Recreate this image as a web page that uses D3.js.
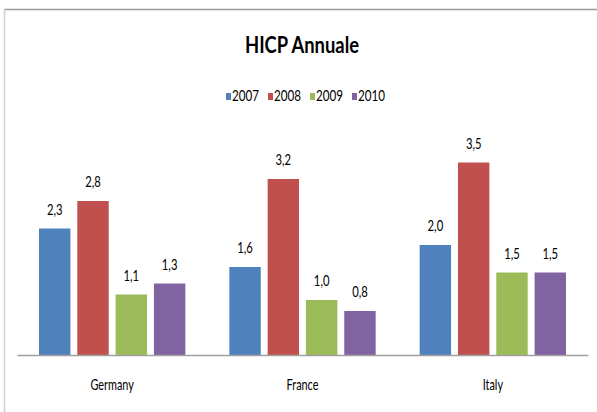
<!DOCTYPE html>
<html lang="it">
<head>
<meta charset="UTF-8"/>
<title>HICP Annuale</title>
<script src="https://d3js.org/d3.v7.min.js"></script>
<style>
  body { margin: 0; background: #fff; }
</style>
</head>
<body>
<div id="chart"></div>
<script>
// Dataset
var countries = ["Germany", "France", "Italy"];
var years = ["2007", "2008", "2009", "2010"];
var hicp2007 = [2.3, 1.6, 2.0];
var hicp2008 = [2.8, 3.2, 3.5];
var hicp2009 = [1.1, 1.0, 1.5];
var hicp2010 = [1.3, 0.8, 1.5];
var colors = ["#4F81BD", "#C0504D", "#9BBB59", "#8064A2"];

var series = [hicp2007, hicp2008, hicp2009, hicp2010];

// Window size
var w = 597;
var h = 412;

var font = "Lato, 'DejaVu Sans Condensed', sans-serif";
// the text in the original is narrow, so squeeze it a bit
var sx = 0.75;

var svg = d3.select("#chart")
    .append("svg")
    .attr("width", w)
    .attr("height", h);

// frame
svg.append("line").attr("x1", 4).attr("x2", w).attr("y1", 9.5).attr("y2", 9.5)
    .attr("stroke", "#9a9a9a").attr("stroke-width", 1.5);
svg.append("line").attr("x1", 4.5).attr("x2", 4.5).attr("y1", 9).attr("y2", h)
    .attr("stroke", "#d0d0d0").attr("stroke-width", 1.5);

// Scales
var xScale = d3.scaleBand()
    .domain(countries)
    .range([17, 588]);

var inner = d3.scaleBand()
    .domain(years)
    .range([22, xScale.bandwidth() - 22])
    .paddingInner(0.18);

var yScale = d3.scaleLinear()
    .domain([0, 4])
    .range([355, 135]);

// Title
svg.append("text")
    .attr("transform", "translate(302,53) scale(0.8,1)")
    .attr("text-anchor", "middle")
    .attr("font-family", font)
    .attr("font-weight", "bold")
    .attr("font-size", "23px")
    .attr("fill", "#000")
    .text("HICP Annuale");

// Legend
var legend = svg.selectAll(".legend")
    .data(years)
    .enter()
    .append("g")
    .attr("transform", function(d, i) { return "translate(" + (226 + i * 42) + ",93)"; });

legend.append("rect")
    .attr("x", 0).attr("y", 0)
    .attr("width", 5).attr("height", 7)
    .attr("fill", function(d, i) { return colors[i]; });

legend.append("text")
    .attr("transform", "translate(6,8) scale(" + sx + ",1)")
    .attr("font-family", font)
    .attr("font-size", "15.5px")
    .attr("fill", "#000")
    .text(function(d) { return d; });

// Bars
var groups = svg.selectAll(".country")
    .data(countries)
    .enter()
    .append("g")
    .attr("transform", function(d) { return "translate(" + xScale(d) + ",0)"; });

years.forEach(function(y, j) {
    groups.append("rect")
        .attr("x", inner(y))
        .attr("y", function(d, i) { return yScale(series[j][i]); })
        .attr("width", inner.bandwidth())
        .attr("height", function(d, i) { return yScale(0) - yScale(series[j][i]); })
        .attr("fill", colors[j]);

    groups.append("text")
        .attr("transform", function(d, i) {
            return "translate(" + (inner(y) + inner.bandwidth() / 2) + "," +
                (yScale(series[j][i]) - 14) + ") scale(" + sx + ",1)";
        })
        .attr("text-anchor", "middle")
        .attr("font-family", font)
        .attr("font-size", "15px")
        .attr("fill", "#000")
        .text(function(d, i) { return series[j][i].toFixed(1).replace(".", ","); });
});

// X axis
var xAxis = d3.axisBottom(xScale).tickSize(0).tickPadding(25);
var gx = svg.append("g")
    .attr("transform", "translate(0," + yScale(0) + ")")
    .call(xAxis);
gx.select(".domain").attr("stroke", "#a0a0a0").attr("stroke-width", 1.5);
gx.selectAll("text")
    .attr("transform", "scale(" + sx + ",1)")
    .attr("font-family", font)
    .attr("font-size", "14.5px")
    .attr("fill", "#000");
</script>
</body>
</html>
